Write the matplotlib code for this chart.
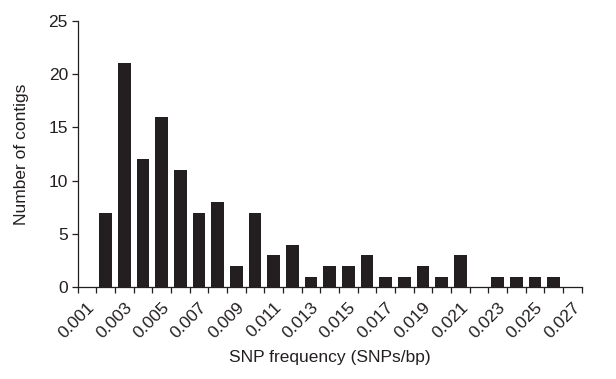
import numpy as np
import matplotlib
matplotlib.use("Agg")
import matplotlib.pyplot as plt

# ---------- Data ----------
FREQS = ["0.001", "0.002", "0.003", "0.004", "0.005", "0.006", "0.007", "0.008", "0.009",
         "0.010", "0.011", "0.012", "0.013", "0.014", "0.015", "0.016", "0.017", "0.018",
         "0.019", "0.020", "0.021", "0.022", "0.023", "0.024", "0.025", "0.026", "0.027"]
COUNTS = [0, 7, 21, 12, 16, 11, 7, 8, 2, 7, 3, 4, 1, 2, 2, 3, 1, 1, 2, 1, 3, 0, 1, 1, 1, 1, 0]
Y_TICKS = [0, 5, 10, 15, 20, 25]

INK = "#231f20"
FS = 12.5
plt.rcParams["font.family"] = ["Liberation Sans", "DejaVu Sans"]

fig = plt.figure(figsize=(6.16, 3.79), dpi=100)
ax = fig.add_axes([0.126, 0.242, 0.818, 0.703])

x = np.arange(len(FREQS))
ax.bar(x, COUNTS, width=0.68, color=INK, edgecolor="none")

ax.set_xlim(-0.5, len(FREQS) - 0.5)
ax.set_ylim(0, 25)
ax.set_yticks(Y_TICKS)

# labels on every other category, tick marks between categories
ax.set_xticks(x[::2])
ax.set_xticklabels(FREQS[::2], rotation=45, ha="right", rotation_mode="anchor")
ax.set_xticks(np.arange(-0.5, len(FREQS)), minor=True)
ax.tick_params(axis="x", which="major", length=0, pad=9, labelsize=FS, colors=INK)
ax.tick_params(axis="x", which="minor", length=4, width=0.9, color=INK)
ax.tick_params(axis="y", length=4, width=0.9, labelsize=FS, colors=INK, pad=3)

for s in ("top", "right"):
    ax.spines[s].set_visible(False)
for s in ("left", "bottom"):
    ax.spines[s].set_linewidth(0.9)
    ax.spines[s].set_color(INK)

ax.set_xlabel("SNP frequency (SNPs/bp)", fontsize=FS, color=INK, labelpad=6)
ax.set_ylabel("Number of contigs", fontsize=FS, color=INK, labelpad=14)

fig.savefig("out.png", dpi=100)
